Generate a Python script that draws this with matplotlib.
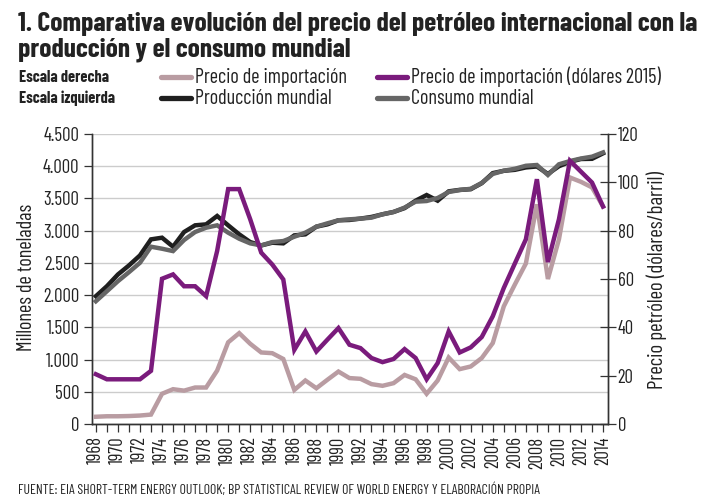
import matplotlib
matplotlib.use("Agg")
import matplotlib.pyplot as plt
from matplotlib.lines import Line2D
from matplotlib.ticker import FuncFormatter, MultipleLocator
from matplotlib import font_manager

years = list(range(1968, 2015))

precio_2015 = [20.6, 18.5, 18.5, 18.5, 18.5, 22.0, 60.1, 61.9, 57.0, 57.0,
               52.9, 71.6, 97.2, 97.2, 84.7, 70.9, 66.0, 59.8, 30.7, 38.3,
               30.0, 34.9, 39.7, 32.8, 31.4, 27.3, 25.6, 26.9, 31.0, 27.3,
               18.5, 25.2, 38.3, 29.6, 31.7, 36.0, 44.6, 56.3, 66.4, 76.4,
               101.3, 67.0, 84.7, 108.9, 104.4, 99.9, 90.0]

precio_nominal = [3.0, 3.2, 3.2, 3.3, 3.5, 3.9, 12.5, 14.4, 13.8, 15.1,
                  15.1, 22.1, 33.8, 37.6, 33.2, 29.6, 29.3, 26.9, 14.1, 18.0,
                  14.8, 18.3, 21.7, 19.0, 18.7, 16.5, 15.8, 16.9, 20.3, 18.5,
                  12.5, 18.0, 27.5, 22.7, 23.8, 27.3, 33.5, 48.7, 57.7, 66.4,
                  90.9, 60.0, 76.4, 102.0, 100.2, 97.9, 90.0]

produccion = [1983, 2138, 2320, 2460, 2616, 2865, 2891, 2751, 2979, 3083,
              3098, 3228, 3083, 2943, 2823, 2771, 2813, 2803, 2927, 2943,
              3062, 3098, 3161, 3166, 3187, 3213, 3254, 3290, 3350, 3465,
              3553, 3465, 3610, 3633, 3643, 3737, 3893, 3929, 3944, 3981,
              3996, 3880, 4000, 4069, 4112, 4115, 4200]

consumo = [1905, 2060, 2216, 2356, 2502, 2751, 2720, 2683, 2855, 2979,
           3046, 3083, 2969, 2875, 2803, 2771, 2823, 2839, 2906, 2969,
           3062, 3114, 3161, 3176, 3187, 3202, 3254, 3290, 3358, 3450,
           3460, 3507, 3600, 3630, 3650, 3740, 3880, 3930, 3960, 4007,
           4019, 3864, 4030, 4080, 4120, 4148, 4214]

year_labels = list(range(1968, 2015, 2))

installed = {f.name for f in font_manager.fontManager.ttflist}
FAM = "DejaVu Sans"
for cand in ["Barlow Condensed", "Roboto Condensed", "Archivo Narrow", "Asap Condensed", "Liberation Sans Narrow"]:
    if cand in installed:
        FAM = cand
        break
plt.rcParams['font.family'] = [FAM, 'DejaVu Sans']

C_PINK = "#b99ca2"
C_PURPLE = "#7a1b7c"
C_BLACK = "#1f1f1f"
C_GRAY = "#666666"
C_TEXT = "#222222"
LW = 3.2

W, H = 712, 500
fig = plt.figure(figsize=(7.12, 5.0), dpi=100)
renderer = fig.canvas.get_renderer()


def fx(x):
    return x / W


def fy(y):
    return 1 - y / H


def fit(t, target_px, horizontal=True):
    for _ in range(3):
        bb = t.get_window_extent(renderer=renderer)
        cur = bb.width if horizontal else bb.height
        if cur > 0:
            t.set_fontsize(t.get_fontsize() * target_px / cur)
    return t


ax = fig.add_axes([fx(92), fy(424), (608 - 92) / W, (424 - 134) / H])
ax2 = ax.twinx()

ax.plot(years, produccion, color=C_BLACK, lw=LW, solid_joinstyle='miter', zorder=3)
ax.plot(years, consumo, color=C_GRAY, lw=LW, solid_joinstyle='miter', zorder=4)
ax2.plot(years, precio_nominal, color=C_PINK, lw=LW, solid_joinstyle='miter', zorder=3)
ax2.plot(years, precio_2015, color=C_PURPLE, lw=LW, solid_joinstyle='miter', zorder=4)

ax.set_xlim(1967.65, 2014.45)
ax.set_ylim(0, 4500)
ax2.set_ylim(0, 120)

ax.yaxis.set_major_locator(MultipleLocator(500))
ax.yaxis.set_major_formatter(FuncFormatter(lambda v, p: f"{int(v):,}".replace(",", ".")))
ax.grid(axis='y', color="#cccccc", lw=1.0, zorder=0)
ax.set_axisbelow(True)

ax.set_xticks(years, minor=True)
ax.set_xticks(year_labels)
ax.set_xticklabels([str(y) for y in year_labels], rotation=90, fontsize=13.5, color=C_TEXT)
ax.tick_params(axis='x', which='both', direction='out', length=6, width=0.9, color="#333333", pad=3)
ax.tick_params(axis='y', direction='out', length=6, width=0.9, color="#333333",
               labelsize=13.5, labelcolor=C_TEXT, pad=3)

ax2.yaxis.set_major_locator(MultipleLocator(20))
ax2.tick_params(axis='y', direction='inout', length=12, width=0.9, color="#333333",
                labelsize=13.5, labelcolor=C_TEXT, pad=1)

for a in (ax, ax2):
    a.spines['top'].set_visible(False)
    for s in ('left', 'right', 'bottom'):
        a.spines[s].set_color("#333333")
        a.spines[s].set_linewidth(1.0)

yl = fig.text(fx(27), fy(277), "Millones de toneladas", rotation=90, fontsize=16,
              color=C_TEXT, ha='center', va='center')
fit(yl, 148, horizontal=False)
yr = fig.text(fx(657), fy(280), "Precio petróleo (dólares/barril)", rotation=90, fontsize=16,
              color=C_TEXT, ha='center', va='center')
fit(yr, 218, horizontal=False)

t1 = fig.text(fx(18), fy(31), "1. Comparativa evolución del precio del petróleo internacional con la",
              fontsize=22, fontweight='bold', color=C_TEXT, va='baseline', ha='left')
fit(t1, 679)
fig.text(fx(18), fy(56), "producción y el consumo mundial",
         fontsize=t1.get_fontsize(), fontweight='bold', color=C_TEXT, va='baseline', ha='left')

e1 = fig.text(fx(19), fy(82.5), "Escala derecha", fontsize=11, fontweight='bold', color=C_TEXT, va='baseline')
fit(e1, 90)
fig.text(fx(19), fy(103.5), "Escala izquierda", fontsize=e1.get_fontsize(), fontweight='bold',
         color=C_TEXT, va='baseline')

legend_items = [
    (161, 77, C_PINK, "Precio de importación"),
    (377, 77, C_PURPLE, "Precio de importación (dólares 2015)"),
    (161, 98, C_BLACK, "Producción mundial"),
    (377, 98, C_GRAY, "Consumo mundial"),
]
leg_size = None
for i, (x0, y0, col, lab) in enumerate(legend_items):
    fig.add_artist(Line2D([fx(x0), fx(x0 + 30)], [fy(y0), fy(y0)], color=col, lw=3.8,
                          transform=fig.transFigure, solid_capstyle='round'))
    t = fig.text(fx(x0 + 34), fy(y0 + 6), lab, fontsize=leg_size or 16, color=C_TEXT, va='baseline')
    if leg_size is None:
        fit(t, 152)
        leg_size = t.get_fontsize()

ft = fig.text(fx(18), fy(494),
              "FUENTE: EIA SHORT-TERM ENERGY OUTLOOK; BP STATISTICAL REVIEW OF WORLD ENERGY Y ELABORACIÓN PROPIA",
              fontsize=10, color=C_TEXT, va='baseline')
fit(ft, 522)

fig.savefig("out.png", dpi=100)
